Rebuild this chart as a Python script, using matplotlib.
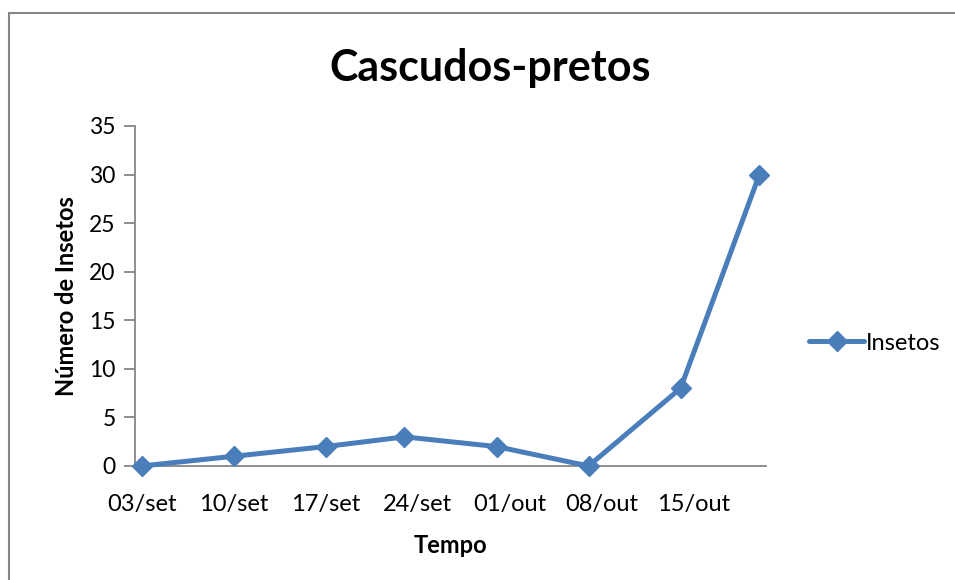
import numpy as np
import pandas as pd
import matplotlib
matplotlib.use('Agg')
import matplotlib.pyplot as plt
import matplotlib.dates as mdates
from matplotlib.patches import Rectangle

plt.rcParams['font.family'] = ['Lato', 'DejaVu Sans']

# dados
datas = ['2011-09-03', '2011-09-10', '2011-09-17', '2011-09-23',
         '2011-09-30', '2011-10-07', '2011-10-14', '2011-10-20']
insetos = [0, 1, 2, 3, 2, 0, 8, 30]

tick_datas = ['2011-09-03', '2011-09-10', '2011-09-17', '2011-09-24',
              '2011-10-01', '2011-10-08', '2011-10-15']
tick_rotulos = ['03/set', '10/set', '17/set', '24/set', '01/out', '08/out', '15/out']
y_ticks = [0, 5, 10, 15, 20, 25, 30, 35]

cor = '#4A7EBB'
cinza = '#868686'

x = pd.to_datetime(datas)
xt = pd.to_datetime(tick_datas)

fig = plt.figure(figsize=(9.55, 5.8), dpi=100)
ax = fig.add_axes([135 / 955, 1 - 466 / 580, (766 - 135) / 955, (466 - 126) / 580])

# moldura do gráfico (cortada à direita e embaixo)
fig.patches.append(Rectangle((9 / 955, -0.1), 1.2, 1 - 13 / 580 + 0.1,
                             transform=fig.transFigure, fill=False,
                             edgecolor=cinza, linewidth=1.5))

ax.plot(x, insetos, color=cor, linewidth=3.6, marker='D', markersize=10,
        markerfacecolor=cor, markeredgecolor=cor, label='Insetos',
        solid_capstyle='round', clip_on=False, zorder=5)

ax.set_xlim(x[0] - pd.Timedelta(hours=12), x[-1] + pd.Timedelta(hours=12))
ax.set_ylim(0, 35)
ax.set_yticks(y_ticks)
ax.set_xticks(xt)
ax.set_xticklabels(tick_rotulos)

for s in ['top', 'right']:
    ax.spines[s].set_visible(False)
for s in ['left', 'bottom']:
    ax.spines[s].set_color(cinza)
    ax.spines[s].set_linewidth(1.3)

ax.tick_params(axis='y', length=8, width=1.3, color=cinza, labelsize=16.5, pad=6)
ax.tick_params(axis='x', length=0, labelsize=17, pad=20)

fig.text(490 / 955, 1 - 68 / 580, 'Cascudos-pretos', fontsize=31, fontweight='bold',
         ha='center', va='center')
ax.set_ylabel('Número de Insetos', fontsize=17, fontweight='bold', labelpad=8)
ax.set_xlabel('Tempo', fontsize=17, fontweight='bold', labelpad=14)

ax.legend(loc='center left', bbox_to_anchor=(800 / 955, 1 - 343 / 580),
          bbox_transform=fig.transFigure, frameon=False, fontsize=17,
          handlelength=2.3, handletextpad=0.1, borderaxespad=0)

fig.savefig('out.png', dpi=100)
